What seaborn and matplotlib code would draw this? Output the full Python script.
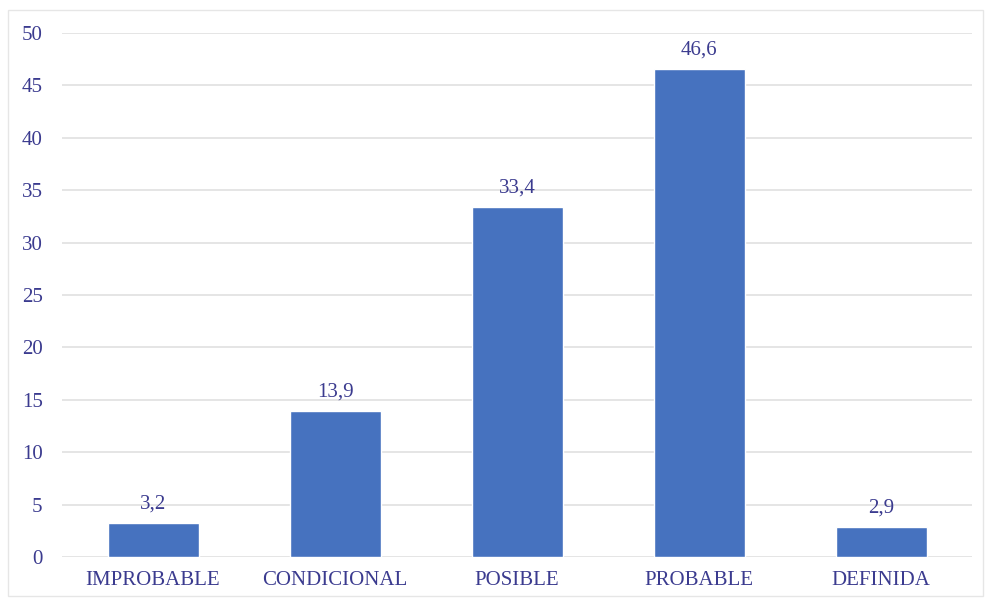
import matplotlib
matplotlib.use("Agg")
import matplotlib.pyplot as plt
import seaborn as sns
import pandas as pd

categories = ["IMPROBABLE", "CONDICIONAL", "POSIBLE", "PROBABLE", "DEFINIDA"]
values = [3.2, 13.9, 33.4, 46.6, 2.9]
yticks = [0, 5, 10, 15, 20, 25, 30, 35, 40, 45, 50]

text_color = "#3b3b8f"
bar_color = "#4672bf"

sns.set_theme(style="white")
plt.rcParams["font.family"] = ["Liberation Serif", "DejaVu Serif"]

df = pd.DataFrame({"categoria": categories, "valor": values})

fig = plt.figure(figsize=(9.86, 6.01), dpi=100)
ax = fig.add_axes([62 / 986, 1 - 557 / 601, 910 / 986, (557 - 33) / 601])

sns.barplot(data=df, x="categoria", y="valor", color=bar_color, width=0.5,
            saturation=1, ax=ax, zorder=3)

for i, v in enumerate(values):
    ax.text(i, v + 0.9, f"{v:.1f}".replace(".", ","), ha="center", va="bottom",
            fontsize=15, color=text_color)

ax.set_ylim(0, 50)
ax.set_xlim(-0.5, 4.5)
ax.set_yticks(yticks)
ax.set_yticklabels([str(t) for t in yticks])
ax.yaxis.grid(True, color="#e0e0e0", linewidth=1.2, zorder=0)
ax.set_axisbelow(True)
ax.tick_params(axis="both", length=0, labelsize=15, labelcolor=text_color)
ax.tick_params(axis="y", pad=14)
ax.tick_params(axis="x", pad=10)
ax.set_xlabel("")
ax.set_ylabel("")
for s in ax.spines.values():
    s.set_visible(False)

# light frame around the chart area
fig.patches.append(plt.Rectangle((8 / 986, 1 - 596 / 601), 975 / 986, 586 / 601,
                                 transform=fig.transFigure, fill=False,
                                 edgecolor="#e6e6e6", linewidth=1))

fig.savefig("out.png", dpi=100)
